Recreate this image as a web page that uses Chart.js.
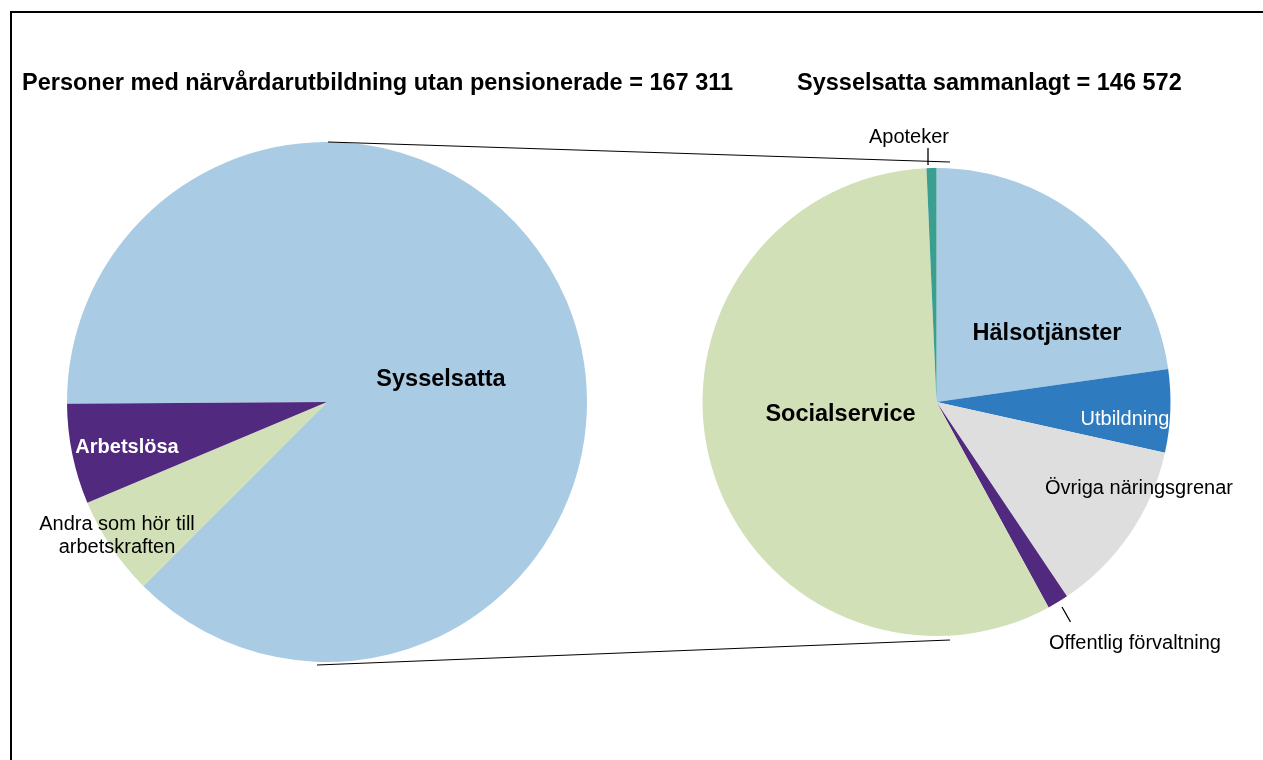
<!DOCTYPE html>
<html>
<head>
<meta charset="utf-8">
<script src="https://cdn.jsdelivr.net/npm/chart.js@4"></script>
<style>
  html, body { margin: 0; padding: 0; background: #ffffff; }
  #wrap { position: relative; width: 1263px; height: 760px; overflow: hidden; }
  canvas { position: absolute; left: 0; top: 0; }
</style>
</head>
<body>
<div id="wrap">
  <canvas id="left" width="1263" height="760"></canvas>
  <canvas id="right" width="1263" height="760"></canvas>
</div>
<script>
// ---- Data ----
const leftTitle = 'Personer med närvårdarutbildning utan pensionerade = 167 311';
const rightTitle = 'Sysselsatta sammanlagt = 146 572';

const leftLabels = ['Sysselsatta', 'Andra som hör till arbetskraften', 'Arbetslösa'];
const leftValues = [146572, 10320, 10419];

const rightLabels = ['Hälsotjänster', 'Utbildning', 'Övriga näringsgrenar', 'Offentlig förvaltning', 'Socialservice', 'Apoteker'];
const rightValues = [33350, 8390, 17750, 2140, 83942, 1000];

// ---- Styles ----
const leftColors = ['#A9CCE4', '#D2E0B7', '#51297E'];
const rightColors = ['#A9CCE4', '#2F7BBF', '#DEDEDE', '#51297E', '#D2E0B7', '#3A9E90'];
const FONT = 'Liberation Sans, Arial, Helvetica, sans-serif';

// label placement relative to pie centre (styles / positions)
const leftLabelStyle = [
  { lines: ['Sysselsatta'], dx: 114, dy: -22, font: 'bold 23.5px ' + FONT, color: '#000' },
  { lines: ['Andra som hör till', 'arbetskraften'], dx: -210, dy: 122, lh: 23, font: '20px ' + FONT, color: '#000' },
  { lines: ['Arbetslösa'], dx: -200, dy: 45, font: 'bold 20px ' + FONT, color: '#fff' }
];
const rightLabelStyle = [
  { lines: ['Hälsotjänster'], dx: 110.5, dy: -68, font: 'bold 23.5px ' + FONT, color: '#000' },
  { lines: ['Utbildning'], dx: 188.5, dy: 17, font: '20px ' + FONT, color: '#fff' },
  { lines: ['Övriga näringsgrenar'], dx: 202.5, dy: 86.5, font: '20px ' + FONT, color: '#000' },
  { lines: ['Offentlig förvaltning'], dx: 198.5, dy: 241, font: '20px ' + FONT, color: '#000',
    leader: [125.5, 205, 134, 220] },
  { lines: ['Socialservice'], dx: -96, dy: 13, font: 'bold 23.5px ' + FONT, color: '#000' },
  { lines: ['Apoteker'], dx: -27.5, dy: -265, font: '20px ' + FONT, color: '#000',
    leader: [-8.5, -254, -8.5, -237] }
];

function labelPlugin(styles) {
  return {
    id: 'pieLabels',
    afterDatasetsDraw(chart) {
      const arc = chart.getDatasetMeta(0).data[0];
      if (!arc) return;
      const cx = arc.x, cy = arc.y;
      const ctx = chart.ctx;
      ctx.save();
      styles.forEach(s => {
        if (s.leader) {
          ctx.beginPath();
          ctx.strokeStyle = '#000';
          ctx.lineWidth = 1.3;
          ctx.moveTo(cx + s.leader[0], cy + s.leader[1]);
          ctx.lineTo(cx + s.leader[2], cy + s.leader[3]);
          ctx.stroke();
        }
        ctx.font = s.font;
        ctx.fillStyle = s.color;
        ctx.textAlign = 'center';
        ctx.textBaseline = 'middle';
        const lh = s.lh || 0;
        s.lines.forEach((t, i) => ctx.fillText(t, cx + s.dx, cy + s.dy + i * lh));
      });
      ctx.restore();
    }
  };
}

const commonOpts = {
  responsive: false,
  maintainAspectRatio: false,
  animation: false,
  devicePixelRatio: 1,
  plugins: { legend: { display: false }, tooltip: { enabled: false }, title: { display: false } },
  events: []
};

const leftChart = new Chart(document.getElementById('left'), {
  type: 'pie',
  data: {
    labels: leftLabels,
    datasets: [{ data: leftValues, backgroundColor: leftColors, borderWidth: 0, hoverOffset: 0 }]
  },
  options: Object.assign({}, commonOpts, {
    rotation: 269.6,
    layout: { padding: { left: 67, top: 142, right: 676, bottom: 98 } }
  }),
  plugins: [labelPlugin(leftLabelStyle)]
});

const overlayPlugin = {
  id: 'overlay',
  afterDraw(chart) {
    const ctx = chart.ctx;
    const la = leftChart.getDatasetMeta(0).data[0];
    const ra = chart.getDatasetMeta(0).data[0];
    ctx.save();
    // frame
    ctx.strokeStyle = '#000';
    ctx.lineWidth = 2;
    ctx.beginPath();
    ctx.moveTo(11, 760);
    ctx.lineTo(11, 12);
    ctx.lineTo(1263, 12);
    ctx.stroke();
    // titles
    ctx.fillStyle = '#000';
    ctx.font = 'bold 23.5px ' + FONT;
    ctx.textAlign = 'left';
    ctx.textBaseline = 'alphabetic';
    ctx.fillText(leftTitle, 22, 90);
    ctx.fillText(rightTitle, 797, 90);
    // connector lines
    ctx.lineWidth = 1.2;
    ctx.beginPath();
    ctx.moveTo(la.x + 1, la.y - la.outerRadius);
    ctx.lineTo(ra.x + 13.5, ra.y - ra.outerRadius - 6);
    ctx.moveTo(la.x - 10, la.y + la.outerRadius + 3);
    ctx.lineTo(ra.x + 13.5, ra.y + ra.outerRadius + 4);
    ctx.stroke();
    ctx.restore();
  }
};

const rightChart = new Chart(document.getElementById('right'), {
  type: 'pie',
  data: {
    labels: rightLabels,
    datasets: [{ data: rightValues, backgroundColor: rightColors, borderWidth: 0, hoverOffset: 0 }]
  },
  options: Object.assign({}, commonOpts, {
    rotation: 0,
    layout: { padding: { left: 702, top: 168, right: 92, bottom: 124 } }
  }),
  plugins: [labelPlugin(rightLabelStyle), overlayPlugin]
});
</script>
</body>
</html>
